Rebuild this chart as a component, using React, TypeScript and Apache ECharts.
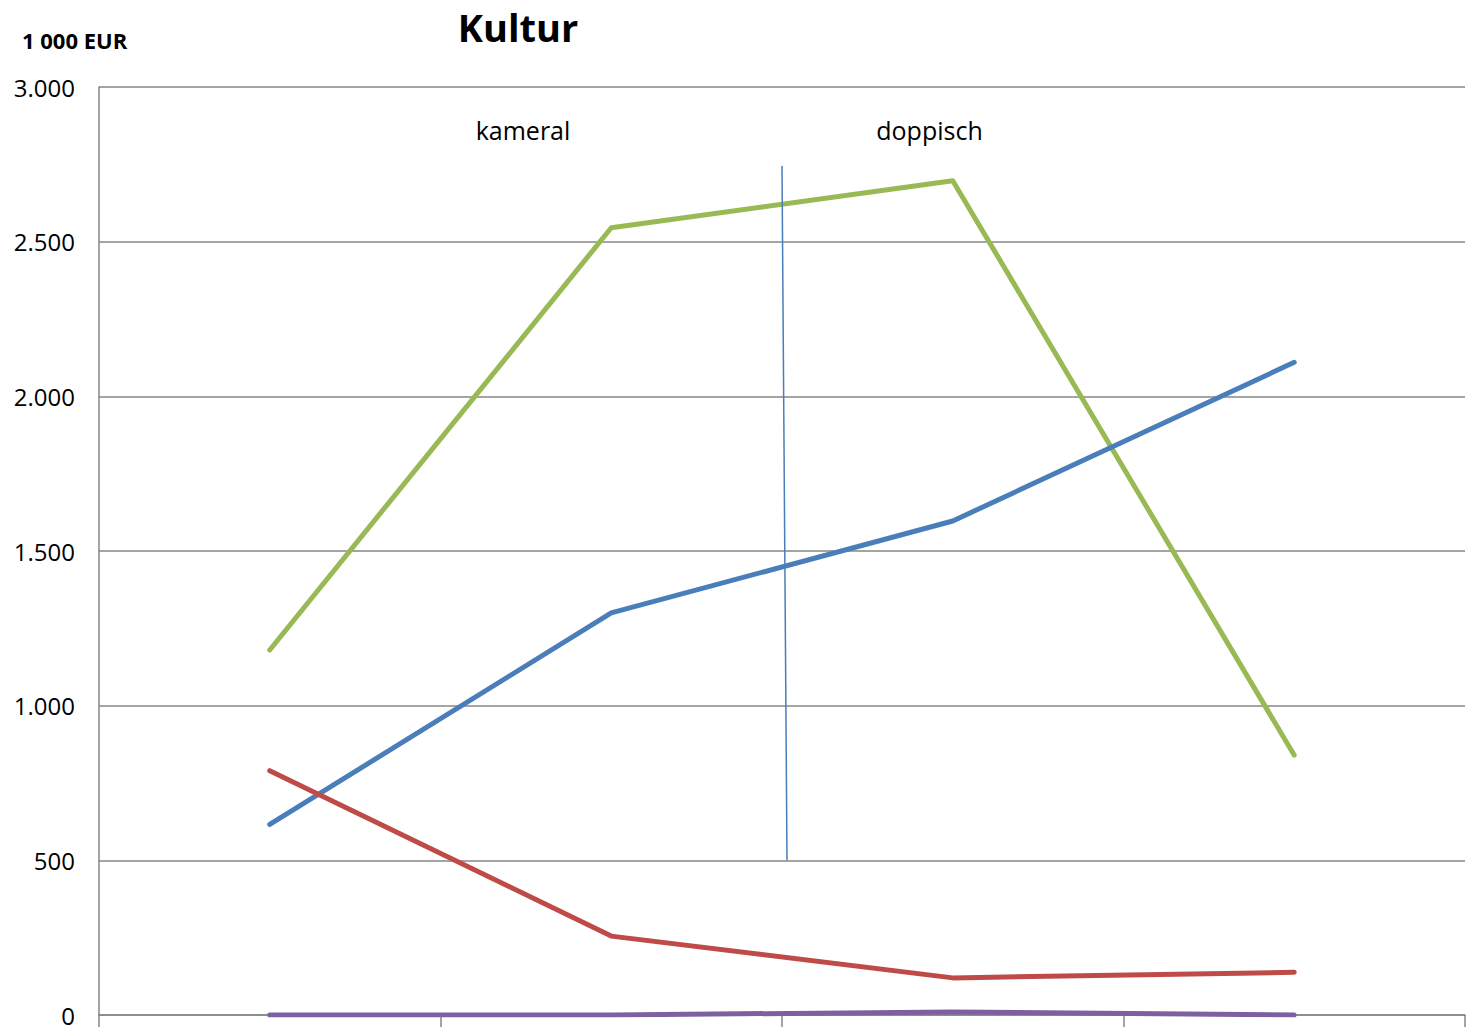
import React, { useEffect, useRef } from "react";
import * as echarts from "echarts";

const categories = ["1", "2", "3", "4"];
const greenValues = [1180, 2545, 2697, 840];
const blueValues = [616, 1300, 1597, 2110];
const redValues = [790, 255, 120, 138];
const purpleValues = [0, 0, 10, 0];
const yTicks = [0, 500, 1000, 1500, 2000, 2500, 3000];
const sectionLabels = ["kameral", "doppisch"];
const dividerRange = [2745, 500];

const FONT = "'Open Sans', Lato, 'DejaVu Sans', sans-serif";

export default function App() {
  const ref = useRef<HTMLDivElement>(null);
  useEffect(() => {
    if (!ref.current) return;
    const chart = echarts.init(ref.current, undefined, { renderer: "svg" });
    const mk = (name: string, data: number[], color: string) => ({
      name,
      type: "line",
      data,
      symbol: "none",
      smooth: false,
      lineStyle: { color, width: 5, cap: "round", join: "round" },
      itemStyle: { color },
      z: 3,
    });
    chart.setOption({
      animation: false,
      backgroundColor: "#ffffff",
      grid: { left: 99, right: 8, top: 87, bottom: 10, containLabel: false },
      xAxis: {
        type: "category",
        data: categories,
        boundaryGap: true,
        axisLine: { show: true, lineStyle: { color: "#868686", width: 1.5 } },
        axisTick: { show: true, length: 14, alignWithLabel: false, lineStyle: { color: "#868686", width: 1.5 } },
        axisLabel: { show: false },
        splitLine: { show: false },
      },
      yAxis: {
        type: "value",
        min: yTicks[0],
        max: yTicks[yTicks.length - 1],
        interval: 500,
        axisLine: { show: true, lineStyle: { color: "#868686", width: 1.5 } },
        axisTick: { show: false },
        splitLine: { show: true, lineStyle: { color: "#868686", width: 1.5 } },
        axisLabel: {
          color: "#000",
          fontFamily: FONT,
          fontSize: 24,
          margin: 24,
          formatter: (v: number) =>
            v === 0 ? "{z|0}" : String(v).replace(/\B(?=(\d{3})+(?!\d))/g, "."),
          rich: {
            z: { color: "#000", fontFamily: FONT, fontSize: 24, lineHeight: 18 },
          },
        },
      },
      series: [
        mk("Grün", greenValues, "#98B954"),
        mk("Blau", blueValues, "#4A7EBB"),
        mk("Rot", redValues, "#BE4B48"),
        mk("Lila", purpleValues, "#7D60A0"),
      ],
    });
    const p1 = chart.convertToPixel({ gridIndex: 0 }, [1, dividerRange[0]]) as number[];
    const p2 = chart.convertToPixel({ gridIndex: 0 }, [2, dividerRange[1]]) as number[];
    const xMid = (p1[0] + p2[0]) / 2;
    const yTop = p1[1];
    const yBot = p2[1];
    const c0 = chart.convertToPixel({ gridIndex: 0 }, [0, 0]) as number[];
    const c1 = chart.convertToPixel({ gridIndex: 0 }, [1, 0]) as number[];
    const c2 = chart.convertToPixel({ gridIndex: 0 }, [2, 0]) as number[];
    const c3 = chart.convertToPixel({ gridIndex: 0 }, [3, 0]) as number[];
    const labelY = chart.convertToPixel({ gridIndex: 0 }, [0, 2860]) as number[];
    chart.setOption({
      graphic: [
        {
          type: "text",
          x: 518,
          y: 27,
          style: {
            text: "Kultur",
            font: `bold 38px ${FONT}`,
            fill: "#000",
            align: "center",
            verticalAlign: "middle",
          },
        },
        {
          type: "text",
          x: 22,
          y: 40,
          style: {
            text: "1 000 EUR",
            font: `bold 22px ${FONT}`,
            fill: "#000",
            verticalAlign: "middle",
          },
        },
        {
          type: "text",
          x: (c0[0] + c1[0]) / 2 + 82.5,
          y: labelY[1],
          style: {
            text: sectionLabels[0],
            font: `25px ${FONT}`,
            fill: "#000",
            align: "center",
            verticalAlign: "middle",
          },
        },
        {
          type: "text",
          x: (c2[0] + c3[0]) / 2 - 194,
          y: labelY[1],
          style: {
            text: sectionLabels[1],
            font: `25px ${FONT}`,
            fill: "#000",
            align: "center",
            verticalAlign: "middle",
          },
        },
        {
          type: "line",
          shape: { x1: xMid, y1: yTop, x2: xMid + 5, y2: yBot },
          style: { stroke: "#4A7EBB", lineWidth: 1.5 },
          z: 10,
        },
      ],
    });
    return () => chart.dispose();
  }, []);
  return (
    <div
      ref={ref}
      style={{ position: "absolute", left: 0, top: 0, width: 1473, height: 1027 }}
    />
  );
}
